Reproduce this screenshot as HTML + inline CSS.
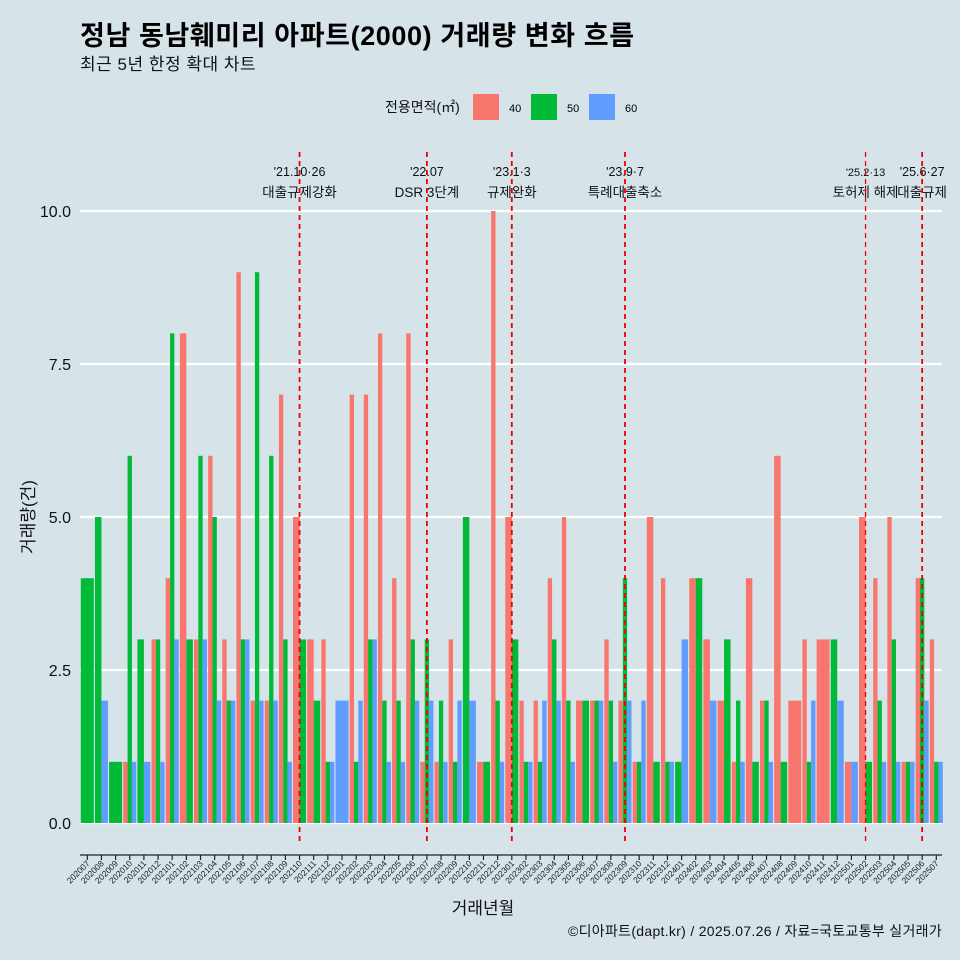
<!DOCTYPE html>
<html><head><meta charset="utf-8">
<style>
body{margin:0;background:#d6e4ea;}
svg{display:block;font-family:"Liberation Sans","Noto Sans CJK KR",sans-serif;}
</style></head>
<body>
<svg id="chart" width="960" height="960" viewBox="0 0 960 960">
<rect x="0" y="0" width="960" height="960" fill="#d6e4ea"/>
<text x="80" y="45" font-size="27" font-weight="bold" fill="#000" letter-spacing="0.6">정남 동남훼미리 아파트(2000) 거래량 변화 흐름</text>
<text x="80" y="70" font-size="17" fill="#111" letter-spacing="0.5">최근 5년 한정 확대 차트</text>
<g>
<text x="385" y="112" font-size="14" fill="#111">전용면적(㎡)</text>
<rect x="473" y="94" width="26" height="26" fill="#f8766d"/>
<text x="509" y="112" font-size="11">40</text>
<rect x="531" y="94" width="26" height="26" fill="#00ba38"/>
<text x="567" y="112" font-size="11">50</text>
<rect x="589" y="94" width="26" height="26" fill="#619cff"/>
<text x="625" y="112" font-size="11">60</text>
</g>
<g id="grid"></g>
<g id="bars"></g>
<g id="events"></g>
<g id="axes"></g>
<text x="0" y="0" transform="translate(34,517) rotate(-90)" text-anchor="middle" font-size="17" fill="#111">거래량(건)</text>
<text x="483" y="914" text-anchor="middle" font-size="17" fill="#111">거래년월</text>
<text x="942" y="936" text-anchor="end" font-size="14" fill="#111" letter-spacing="0.3">©디아파트(dapt.kr) / 2025.07.26 / 자료=국토교통부 실거래가</text>
</svg>
<script>
const months=["202007","202008","202009","202010","202011","202012","202101","202102","202103","202104","202105","202106","202107","202108","202109","202110","202111","202112","202201","202202","202203","202204","202205","202206","202207","202208","202209","202210","202211","202212","202301","202302","202303","202304","202305","202306","202307","202308","202309","202310","202311","202312","202401","202402","202403","202404","202405","202406","202407","202408","202409","202410","202411","202412","202501","202502","202503","202504","202505","202506","202507"];
const s40=[null,null,null,1,null,3,4,8,3,6,3,9,2,2,7,5,3,3,null,7,7,8,4,8,1,1,3,null,1,10,5,2,2,4,5,2,2,3,2,1,5,4,null,4,3,2,1,4,2,6,2,3,3,null,1,5,4,5,1,4,3];
const s50=[4,5,1,6,3,3,8,3,6,5,2,3,9,6,3,3,2,1,null,1,3,2,2,3,3,2,1,5,1,2,3,1,1,3,2,2,2,2,4,1,1,1,1,4,null,3,2,1,2,1,null,1,null,3,null,1,2,3,1,4,1];
const s60=[null,2,null,1,1,1,3,null,3,2,2,3,2,2,1,null,null,1,2,2,3,1,1,2,2,1,2,2,null,1,null,1,2,2,1,null,2,1,2,2,null,1,3,null,2,null,1,null,1,null,null,2,null,2,1,null,1,1,1,2,1];
const yTicks=[0,2.5,5,7.5,10];
const yTickLabels=["0.0","2.5","5.0","7.5","10.0"];
const eventMonths=["202110","202207","202301","202309","202502","202506"];
const eventLine1=["'21.10·26","'22.07","'23.1·3","'23.9·7","'25.2·13","'25.6·27"];
const eventLine2=["대출규제강화","DSR 3단계","규제완화","특례대출축소","토허제 해제","대출규제"];
const seriesList=[s40,s50,s60];
const colors=["#f8766d","#00ba38","#619cff"];
const seriesNames=["40","50","60"];
const NS="http://www.w3.org/2000/svg";
const x0=87.3, step=14.15, y0=823, yU=61.2;
function xc(i){return x0+i*step;}
function y(v){return y0-v*yU;}
function mk(tag,attrs,parent){const e=document.createElementNS(NS,tag);for(const k in attrs)e.setAttribute(k,attrs[k]);parent.appendChild(e);return e;}
const grid=document.getElementById('grid');
yTicks.forEach((t,k)=>{
  const l=mk('line',{x1:80,x2:942,y1:y(t),y2:y(t),stroke:'#fff','stroke-width':2.2},grid);
  
  
  const tx=mk('text',{x:71,y:y(t)+6,'text-anchor':'end','font-size':16,fill:'#111'},grid);
  tx.textContent=yTickLabels[k];
  
  
});
const bars=document.getElementById('bars');
const slot=step*0.92;
months.forEach((m,i)=>{
  const present=[];
  seriesList.forEach((s,j)=>{if(s[i]!=null)present.push(j);});
  const w=slot/present.length;
  present.forEach((j,k)=>{
    const v=seriesList[j][i];
    const r=mk('rect',{x:xc(i)-slot/2+k*w,y:y(v),width:w,height:v*yU,fill:colors[j]},bars);
    
    
  });
});
const ev=document.getElementById('events');
eventMonths.forEach((m,k)=>{
  const i=months.indexOf(m);
  const x=xc(i);
  const small=(k===4);
  const t1=mk('text',{x:x,y:176,'text-anchor':'middle','font-size':small?11:12.5,fill:'#111'},ev);
  t1.textContent=eventLine1[k];
  
  
  const t2=mk('text',{x:x,y:197,'text-anchor':'middle','font-size':13.5,fill:'#111'},ev);
  t2.textContent=eventLine2[k];
  
  
  const l=mk('line',{x1:x,x2:x,y1:152,y2:842,stroke:'#ee0000','stroke-width':small?1.3:1.8,'stroke-dasharray':'5,4'},ev);
  
  
});
const ax=document.getElementById('axes');
const al=mk('line',{x1:80,x2:942,y1:855,y2:855,stroke:'#222','stroke-width':1.2},ax);


months.forEach((m,i)=>{
  const x=xc(i);
  const t=mk('line',{x1:x,x2:x,y1:855,y2:860,stroke:'#222','stroke-width':1.2},ax);
  
  
  const tx=mk('text',{x:0,y:0,transform:'translate('+(x+3)+',864) rotate(-45)','text-anchor':'end','font-size':8.5,fill:'#222'},ax);
  tx.textContent=m;
  
  
});
</script>
</body></html>
